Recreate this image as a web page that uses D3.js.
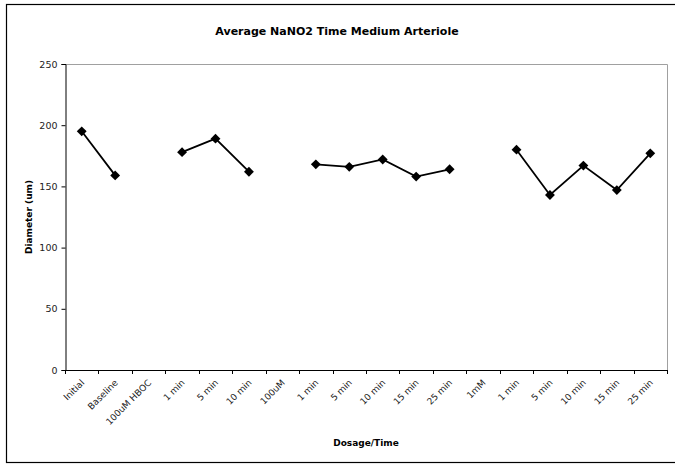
<!DOCTYPE html>
<html>
<head>
<meta charset="utf-8">
<script src="https://cdn.jsdelivr.net/npm/d3@7"></script>
<style>
  html, body { margin: 0; padding: 0; background: #fff; }
  svg { display: block; font-family: "DejaVu Sans", Verdana, sans-serif; }
</style>
</head>
<body>
<svg id="chart" width="675" height="465"></svg>
<script>
// Category labels along the x axis (group headers carry no measurement)
const categories = [
  "Initial", "Baseline", "100uM HBOC", "1 min", "5 min", "10 min",
  "100uM", "1 min", "5 min", "10 min", "15 min", "25 min",
  "1mM", "1 min", "5 min", "10 min", "15 min", "25 min"
];
// Mean arteriole diameter (um); null marks a gap in the line
const diameters = [
  195, 159, null, 178, 189, 162,
  null, 168, 166, 172, 158, 164,
  null, 180, 143, 167, 147, 177
];
const yTicks = [0, 50, 100, 150, 200, 250];

const svg = d3.select("#chart");
const W = 675, H = 465;
const plot = { left: 65, right: 667, top: 64, bottom: 370 };

// Outer chart frame
svg.append("rect")
  .attr("x", 6.5).attr("y", 4.5)
  .attr("width", W + 10).attr("height", 458)
  .attr("fill", "#fff").attr("stroke", "#000").attr("stroke-width", 1.2);

const x = d3.scaleBand()
  .domain(d3.range(categories.length))
  .range([plot.left, plot.right])
  .padding(0);

const y = d3.scaleLinear()
  .domain([0, 250])
  .range([plot.bottom, plot.top]);

// Plot area border (top and right in grey)
svg.append("path")
  .attr("d", `M${plot.left},${plot.top + 0.5}H${plot.right + 0.5}V${plot.bottom}`)
  .attr("fill", "none").attr("stroke", "#a0a0a0").attr("stroke-width", 1);

// Title
svg.append("text")
  .attr("x", 337).attr("y", 35)
  .attr("text-anchor", "middle")
  .attr("font-size", "11px").attr("font-weight", "bold")
  .text("Average NaNO2 Time Medium Arteriole");

// Y axis
const yAxis = d3.axisLeft(y).tickValues(yTicks).tickSize(4).tickPadding(4);
const gy = svg.append("g")
  .attr("transform", `translate(${plot.left + 0.5},0)`)
  .call(yAxis);
gy.select(".domain").attr("stroke", "#000");
gy.selectAll(".tick line").attr("stroke", "#000");
gy.selectAll(".tick text")
  .attr("font-size", "9.5px")
  .attr("fill", "#222")
  .attr("x", -8)
  .attr("font-family", "DejaVu Sans, Verdana, sans-serif");

// X axis: ticks sit on category boundaries
const boundaries = d3.range(categories.length + 1).map(i =>
  i < categories.length ? x(i) : x(categories.length - 1) + x.bandwidth());
const gx = svg.append("g").attr("class", "x-axis");
gx.append("line")
  .attr("x1", plot.left).attr("x2", plot.right + 0.5)
  .attr("y1", plot.bottom + 0.5).attr("y2", plot.bottom + 0.5)
  .attr("stroke", "#000");
gx.selectAll("line.tick")
  .data(boundaries)
  .join("line")
  .attr("class", "tick")
  .attr("x1", d => Math.round(d) + 0.5).attr("x2", d => Math.round(d) + 0.5)
  .attr("y1", plot.bottom).attr("y2", plot.bottom + 4)
  .attr("stroke", "#000");
gx.selectAll("text")
  .data(categories)
  .join("text")
  .attr("transform", (d, i) =>
    `translate(${x(i) + x.bandwidth() / 2 + 1},${plot.bottom + 11}) rotate(-45)`)
  .attr("text-anchor", "end")
  .attr("dy", "0.35em")
  .attr("font-size", "9px")
  .attr("fill", "#222")
  .text(d => d);

// Axis titles
svg.append("text")
  .attr("x", (plot.left + plot.right) / 2).attr("y", 446)
  .attr("text-anchor", "middle")
  .attr("font-size", "9px").attr("font-weight", "bold")
  .text("Dosage/Time");

svg.append("text")
  .attr("transform", `translate(32,${(plot.top + plot.bottom) / 2}) rotate(-90)`)
  .attr("text-anchor", "middle")
  .attr("font-size", "9px").attr("font-weight", "bold")
  .text("Diameter (um)");

// Series line with gaps at null values
const pts = diameters.map((v, i) => ({ i, v }));
const line = d3.line()
  .defined(d => d.v !== null)
  .x(d => x(d.i) + x.bandwidth() / 2)
  .y(d => y(d.v));

svg.append("path")
  .datum(pts)
  .attr("d", line)
  .attr("fill", "none")
  .attr("stroke", "#000")
  .attr("stroke-width", 1.8);

// Diamond markers
const diamond = d3.symbol().type(d3.symbolDiamond2).size(62);
svg.selectAll("path.marker")
  .data(pts.filter(d => d.v !== null))
  .join("path")
  .attr("class", "marker")
  .attr("d", diamond)
  .attr("transform", d => `translate(${x(d.i) + x.bandwidth() / 2},${y(d.v)})`)
  .attr("fill", "#000");
</script>
</body>
</html>
